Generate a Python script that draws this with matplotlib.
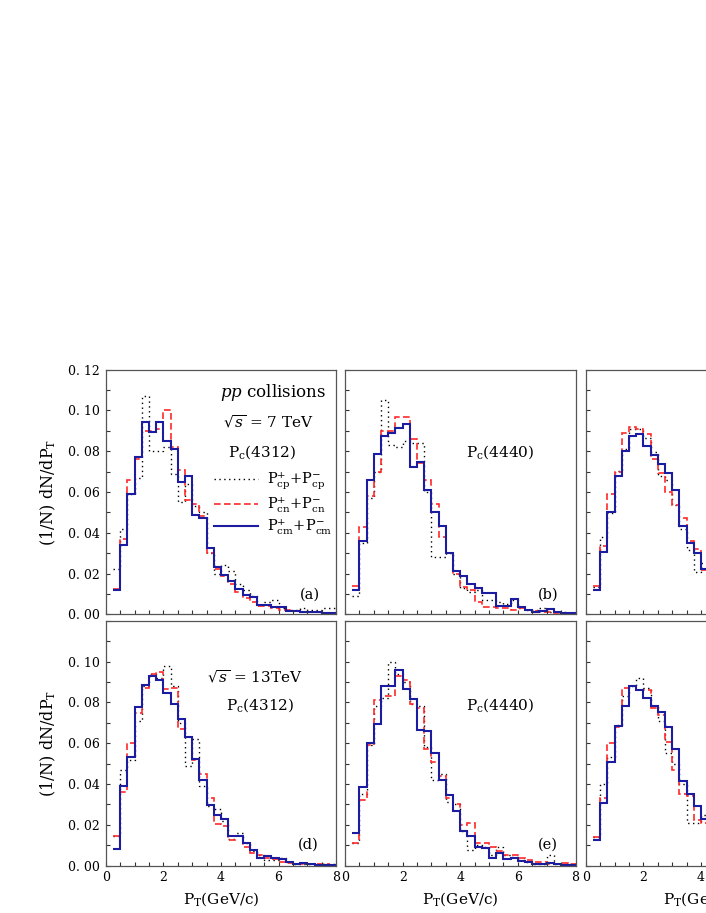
import matplotlib
matplotlib.use('Agg')
import matplotlib.pyplot as plt
import numpy as np

plt.rcParams['font.family'] = ['DejaVu Serif']
plt.rcParams['mathtext.fontset'] = 'dejavuserif'

# bin edges (GeV/c), 0.25 wide
edges_full = np.arange(0.25, 8.001, 0.25)
edges_part = np.arange(0.25, 4.251, 0.25)   # panels (c),(f): only the visible part

# (a) sqrt(s)=7 TeV, Pc(4312)
a_cp = [0.022, 0.042, 0.059, 0.067, 0.107, 0.080, 0.080, 0.082, 0.069, 0.055, 0.064, 0.053, 0.050, 0.030, 0.020, 0.024,
        0.021, 0.015, 0.012, 0.009, 0.0045, 0.006, 0.007, 0.003, 0.002, 0.002, 0.003, 0.002, 0.002, 0.003, 0.003]
a_cn = [0.0125, 0.037, 0.066, 0.076, 0.090, 0.090, 0.091, 0.100, 0.082, 0.071, 0.056, 0.054, 0.048, 0.030, 0.022, 0.019,
        0.015, 0.011, 0.008, 0.006, 0.004, 0.004, 0.003, 0.002, 0.002, 0.0015, 0.001, 0.001, 0.001, 0.0008, 0.0006]
a_cm = [0.012, 0.034, 0.059, 0.077, 0.0945, 0.0894, 0.0945, 0.085, 0.081, 0.065, 0.068, 0.0487, 0.047, 0.0324, 0.0234, 0.0193,
        0.0163, 0.0126, 0.0096, 0.0087, 0.0046, 0.0046, 0.0038, 0.0038, 0.0018, 0.0018, 0.0013, 0.001, 0.001, 0.0008, 0.0006]

# (b) sqrt(s)=7 TeV, Pc(4440)
b_cp = [0.009, 0.035, 0.057, 0.070, 0.105, 0.083, 0.082, 0.085, 0.084, 0.084, 0.060, 0.028, 0.028, 0.030, 0.020, 0.013,
        0.011, 0.012, 0.007, 0.007, 0.006, 0.005, 0.007, 0.003, 0.002, 0.002, 0.003, 0.001, 0.001, 0.001, 0.0008]
b_cn = [0.014, 0.043, 0.058, 0.070, 0.090, 0.090, 0.0966, 0.0966, 0.086, 0.074, 0.066, 0.054, 0.038, 0.030, 0.020, 0.0135,
        0.012, 0.006, 0.0037, 0.0037, 0.003, 0.003, 0.002, 0.003, 0.002, 0.0015, 0.001, 0.001, 0.0008, 0.0006, 0.0005]
b_cm = [0.012, 0.036, 0.066, 0.0786, 0.0873, 0.089, 0.0913, 0.0933, 0.0724, 0.0745, 0.061, 0.050, 0.0435, 0.030, 0.0212, 0.0188,
        0.0149, 0.013, 0.0103, 0.0103, 0.0041, 0.0041, 0.0074, 0.0034, 0.0022, 0.0011, 0.0015, 0.0028, 0.0011, 0.0008, 0.0008]

# (c) sqrt(s)=7 TeV, third state (cut off at the right edge)
c_cp = [0.0135, 0.038, 0.0495, 0.0705, 0.081, 0.091, 0.091, 0.0863, 0.0798, 0.0678, 0.066, 0.0536, 0.042, 0.0315, 0.0206, 0.025]
c_cn = [0.014, 0.0335, 0.059, 0.070, 0.0888, 0.0917, 0.091, 0.0885, 0.076, 0.0695, 0.0598, 0.0535, 0.047, 0.036, 0.032, 0.0217]
c_cm = [0.012, 0.0307, 0.0503, 0.0678, 0.080, 0.0875, 0.0885, 0.0826, 0.078, 0.0737, 0.0695, 0.0608, 0.0435, 0.0348, 0.0302, 0.0222]

# (d) sqrt(s)=13 TeV, Pc(4312)
d_cp = [0.0145, 0.047, 0.052, 0.071, 0.088, 0.094, 0.092, 0.098, 0.088, 0.070, 0.049, 0.062, 0.039, 0.029, 0.028, 0.022,
        0.013, 0.016, 0.011, 0.007, 0.005, 0.003, 0.003, 0.004, 0.002, 0.001, 0.001, 0.001, 0.001, 0.001, 0.001]
d_cn = [0.0145, 0.036, 0.060, 0.075, 0.087, 0.094, 0.095, 0.0865, 0.087, 0.067, 0.063, 0.052, 0.045, 0.033, 0.0205, 0.0195,
        0.0125, 0.0145, 0.009, 0.006, 0.005, 0.004, 0.0035, 0.002, 0.0015, 0.001, 0.001, 0.001, 0.001, 0.0008, 0.0005]
d_cm = [0.008, 0.0392, 0.0533, 0.0776, 0.0883, 0.093, 0.091, 0.0848, 0.0793, 0.072, 0.0632, 0.0525, 0.0418, 0.0298, 0.0246, 0.023,
        0.0144, 0.0144, 0.0109, 0.0079, 0.0039, 0.0049, 0.004, 0.0031, 0.0019, 0.0008, 0.0013, 0.001, 0.0005, 0.0005, 0.0005]

# (e) sqrt(s)=13 TeV, Pc(4440)
e_cp = [0.011, 0.035, 0.059, 0.078, 0.082, 0.100, 0.094, 0.090, 0.079, 0.078, 0.058, 0.042, 0.045, 0.031, 0.030, 0.017,
        0.0075, 0.010, 0.009, 0.005, 0.009, 0.005, 0.0045, 0.003, 0.002, 0.001, 0.001, 0.005, 0.001, 0.001, 0.001]
e_cn = [0.011, 0.032, 0.059, 0.081, 0.083, 0.083, 0.093, 0.091, 0.079, 0.077, 0.057, 0.051, 0.044, 0.033, 0.030, 0.020,
        0.021, 0.011, 0.011, 0.009, 0.007, 0.005, 0.005, 0.004, 0.003, 0.002, 0.002, 0.001, 0.001, 0.0015, 0.001]
e_cm = [0.0162, 0.0386, 0.060, 0.0692, 0.0878, 0.0878, 0.096, 0.0864, 0.0818, 0.0665, 0.0658, 0.0551, 0.042, 0.0344, 0.0266, 0.0169,
        0.0147, 0.0094, 0.0089, 0.0037, 0.0062, 0.0034, 0.0037, 0.0024, 0.0019, 0.001, 0.001, 0.0011, 0.001, 0.0003, 0.0003]

# (f) sqrt(s)=13 TeV, third state (cut off)
f_cp = [0.014, 0.040, 0.053, 0.069, 0.083, 0.088, 0.092, 0.087, 0.078, 0.071, 0.055, 0.050, 0.040, 0.021, 0.021, 0.025]
f_cn = [0.014, 0.033, 0.060, 0.068, 0.087, 0.088, 0.086, 0.086, 0.077, 0.074, 0.0605, 0.047, 0.035, 0.034, 0.0225, 0.021]
f_cm = [0.0128, 0.0308, 0.051, 0.0684, 0.0781, 0.0882, 0.0862, 0.0822, 0.0784, 0.0752, 0.0677, 0.0574, 0.0413, 0.035, 0.0293, 0.0227]

series_labels = [r'$\mathrm{P^{+}_{cp}}$+$\mathrm{P^{-}_{cp}}$',
                 r'$\mathrm{P^{+}_{cn}}$+$\mathrm{P^{-}_{cn}}$',
                 r'$\mathrm{P^{+}_{cm}}$+$\mathrm{P^{-}_{cm}}$']
ytick_vals = [0.00, 0.02, 0.04, 0.06, 0.08, 0.10, 0.12]
ytick_text = ['0. 00', '0. 02', '0. 04', '0. 06', '0. 08', '0. 10', '0. 12']
xtick_vals = [0, 2, 4, 6, 8]
xtick_text = ['0', '2', '4', '6', '8']

BLUE = '#1c1ca0'
RED = '#ff2a2a'


def dibujar(ax, cp, cn, cm, edges):
    ax.stairs(cp, edges, color='black', lw=1.0, ls=(0, (1, 2.5)), baseline=None)
    ax.stairs(cn, edges, color=RED, lw=1.2, ls=(0, (4, 2)), baseline=None)
    ax.stairs(cm, edges, color=BLUE, lw=1.5, baseline=None)


def config_ejes(ax, fila, col):
    ax.set_xlim(0, 8)
    ax.set_ylim(0, 0.12)
    for s in ax.spines.values():
        s.set_color('#555555')
        s.set_linewidth(0.9)
    ax.set_xticks(np.arange(0, 8.01, 0.5), minor=True)
    ax.set_xticks(xtick_vals)
    ax.set_yticks(np.arange(0, 0.1201, 0.01), minor=True)
    ax.set_yticks(ytick_vals)
    ax.tick_params(which='both', direction='in', length=3, width=0.8, color='#333333',
                   top=False, right=False, labelsize=9, pad=4)
    if fila == 1:
        ax.set_xticklabels(xtick_text)
        ax.set_xlabel(r'P$_\mathrm{T}$(GeV/c)', fontsize=11, labelpad=4)
    else:
        ax.set_xticklabels([])
    if col == 0:
        if fila == 0:
            ax.set_yticklabels(ytick_text)
        else:
            ax.set_yticklabels(ytick_text[:-1] + [''])
        ax.set_ylabel(r'(1/N) dN/dP$_\mathrm{T}$', fontsize=11.5)
        ax.yaxis.set_label_coords(-0.205, 0.5)
    else:
        ax.set_yticklabels([])


fig = plt.figure(figsize=(7.06, 9.13), dpi=100)
W, H = 706.0, 913.0
lefts = [105.7, 345.0, 585.7]
bottoms = [614.3, 865.7]
tops = [369.7, 620.7]
ancho = 230.5

datos = [[(a_cp, a_cn, a_cm, edges_full), (b_cp, b_cn, b_cm, edges_full), (c_cp, c_cn, c_cm, edges_part)],
         [(d_cp, d_cn, d_cm, edges_full), (e_cp, e_cn, e_cm, edges_full), (f_cp, f_cn, f_cm, edges_part)]]

axs = [[None] * 3 for _ in range(2)]
for fila in range(2):
    for col in range(3):
        ax = fig.add_axes([lefts[col] / W, 1 - bottoms[fila] / H, ancho / W, (bottoms[fila] - tops[fila]) / H])
        cp, cn, cm, edges = datos[fila][col]
        dibujar(ax, cp, cn, cm, edges)
        config_ejes(ax, fila, col)
        axs[fila][col] = ax

# textos del panel (a)
ax = axs[0][0]
ax.text(0.955, 0.905, r'$\it{pp}$ collisions', transform=ax.transAxes, ha='right', va='center', fontsize=12)
ax.text(0.705, 0.786, r'$\sqrt{s}$ = 7 TeV', transform=ax.transAxes, ha='center', va='center', fontsize=11)
ax.text(0.68, 0.664, r'P$_\mathrm{c}$(4312)', transform=ax.transAxes, ha='center', va='center', fontsize=11)
ax.text(0.885, 0.079, '(a)', transform=ax.transAxes, ha='center', va='center', fontsize=10.5)
ax.legend(series_labels, loc='upper left', bbox_to_anchor=(0.47, 0.59), frameon=False, fontsize=10.5,
          handlelength=3.0, handletextpad=0.6, labelspacing=0.12, borderpad=0, borderaxespad=0)

ax = axs[0][1]
ax.text(0.673, 0.664, r'P$_\mathrm{c}$(4440)', transform=ax.transAxes, ha='center', va='center', fontsize=11)
ax.text(0.881, 0.079, '(b)', transform=ax.transAxes, ha='center', va='center', fontsize=10.5)

ax = axs[1][0]
ax.text(0.645, 0.770, r'$\sqrt{s}$ = 13TeV', transform=ax.transAxes, ha='center', va='center', fontsize=11)
ax.text(0.67, 0.656, r'P$_\mathrm{c}$(4312)', transform=ax.transAxes, ha='center', va='center', fontsize=11)
ax.text(0.878, 0.085, '(d)', transform=ax.transAxes, ha='center', va='center', fontsize=10.5)

ax = axs[1][1]
ax.text(0.673, 0.656, r'P$_\mathrm{c}$(4440)', transform=ax.transAxes, ha='center', va='center', fontsize=11)
ax.text(0.881, 0.085, '(e)', transform=ax.transAxes, ha='center', va='center', fontsize=10.5)

fig.savefig('out.png', dpi=100)
